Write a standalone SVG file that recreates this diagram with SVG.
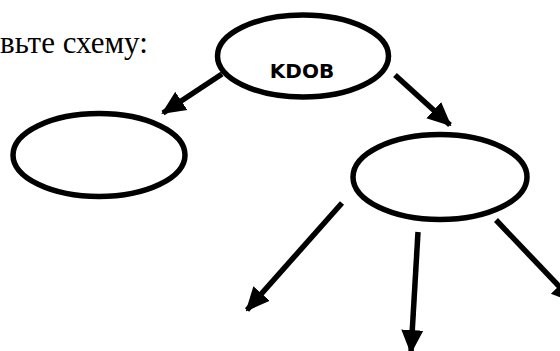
<svg xmlns="http://www.w3.org/2000/svg" width="560" height="351" viewBox="0 0 560 351">
<style>
.node{fill:none;stroke:#000;stroke-width:5.5}
.conn{stroke:#000;stroke-width:5.5;fill:none}
.lbl{font-family:"DejaVu Sans",sans-serif;font-weight:bold;font-size:20px;fill:#000}
.cap{font-family:"Liberation Serif","Times New Roman",serif;font-size:31px;fill:#000}
</style>
<defs>
<marker id="ah" markerUnits="userSpaceOnUse" markerWidth="24" markerHeight="24" viewBox="0 0 24 22" refX="22" refY="11" orient="auto">
<path d="M0,0 L24,11 L0,22 Z" fill="#000"/>
</marker>
</defs>
<text class="cap" x="0" y="53">вьте схему:</text>
<g id="top">
<ellipse class="node" cx="303" cy="56" rx="85.5" ry="41"/>
<text class="lbl" x="302" y="78" text-anchor="middle">KDOB</text>
</g>
<g id="left">
<ellipse class="node" cx="99" cy="155" rx="86" ry="41.5"/>
</g>
<g id="right">
<ellipse class="node" cx="440" cy="177" rx="87" ry="42.5"/>
</g>
<g id="connectors">
<line class="conn" x1="222" y1="74" x2="163" y2="113" marker-end="url(#ah)"/>
<line class="conn" x1="395" y1="75" x2="450" y2="125" marker-end="url(#ah)"/>
<line class="conn" x1="342" y1="203" x2="247" y2="310" marker-end="url(#ah)"/>
<line class="conn" x1="418" y1="232" x2="411" y2="352" marker-end="url(#ah)"/>
<line class="conn" x1="496" y1="220" x2="574" y2="302" marker-end="url(#ah)"/>
</g>
</svg>
